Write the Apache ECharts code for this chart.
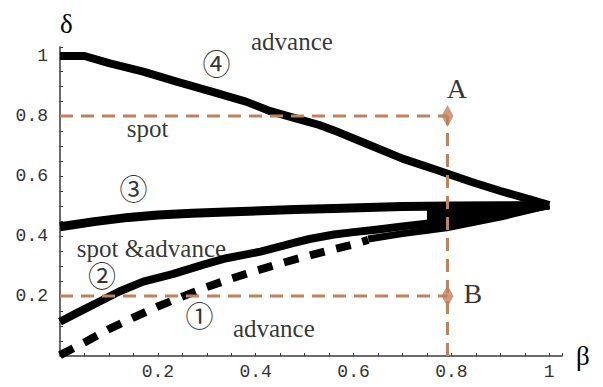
<!DOCTYPE html>
<html>
<head>
<meta charset="utf-8">
<script src="https://cdn.jsdelivr.net/npm/echarts@6/dist/echarts.min.js"></script>
<style>html,body{margin:0;padding:0;background:#fff}#c{width:603px;height:387px}</style>
</head>
<body>
<div id="c"></div>
<script>
// ---- data ----
const tickLabels = [0.2, 0.4, 0.6, 0.8, 1];

const curve4X = [0, 0.05, 0.1, 0.17, 0.24, 0.31, 0.38, 0.43, 0.48, 0.53, 0.56, 0.63, 0.7, 0.77, 0.84, 0.9, 0.96, 1.0];
const curve4Y = [1.0, 1.0, 0.976, 0.948, 0.914, 0.881, 0.848, 0.816, 0.793, 0.77, 0.752, 0.705, 0.658, 0.62, 0.581, 0.55, 0.522, 0.503];

const curve3X = [0, 0.07, 0.14, 0.2, 0.27, 0.34, 0.41, 0.48, 0.56, 0.63, 0.7, 0.8, 0.9, 1.0];
const curve3Y = [0.431, 0.448, 0.462, 0.47, 0.476, 0.48, 0.484, 0.488, 0.492, 0.495, 0.498, 0.5, 0.501, 0.502];

const curve2X = [0, 0.04, 0.08, 0.12, 0.17, 0.23, 0.29, 0.34, 0.41, 0.48, 0.51, 0.56, 0.6, 0.65, 0.7, 0.79, 0.9, 1.0];
const curve2Y = [0.114, 0.148, 0.181, 0.214, 0.248, 0.273, 0.303, 0.326, 0.348, 0.378, 0.39, 0.405, 0.413, 0.422, 0.432, 0.448, 0.474, 0.502];

const curve1X = [0, 0.05, 0.1, 0.15, 0.2, 0.25, 0.3, 0.35, 0.4, 0.45, 0.5, 0.55, 0.6, 0.63];
const curve1Y = [0.003, 0.045, 0.09, 0.128, 0.165, 0.198, 0.23, 0.258, 0.284, 0.308, 0.331, 0.352, 0.372, 0.387];

const curve1TailX = [0.63, 0.7, 0.79, 0.9, 1.0];
const curve1TailY = [0.39, 0.408, 0.427, 0.463, 0.502];

// region between curve 2 and curve 3 near the tip (filled black)
const wedgeX = [0.75, 0.8, 0.85, 0.9, 0.95, 1.0];
const wedgeTop = [0.499, 0.5, 0.5, 0.501, 0.501, 0.502];
const wedgeBottom = [0.441, 0.45, 0.462, 0.474, 0.488, 0.502];

// reference lines and points A, B
const refBeta = 0.792;
const pointA = [0.792, 0.8];
const pointB = [0.792, 0.2];

// annotations [beta, delta]
const annoText = ['advance', '④', 'spot', '③', 'spot &advance', '②', '①', 'advance', 'A', 'B'];
const annoBeta = [0.474, 0.32, 0.179, 0.15, 0.187, 0.086, 0.285, 0.437, 0.811, 0.844];
const annoDelta = [1.047, 0.97, 0.76, 0.553, 0.357, 0.263, 0.127, 0.093, 0.893, 0.21];
const annoSize = [25, 28, 25, 28, 25, 28, 28, 25, 28, 28];

// ---- build ----
const zip = (xs, ys) => xs.map((x, i) => [x, ys[i]]);
const BROWN = '#BF825C';
const serif = "'Liberation Serif', 'Times New Roman', 'Noto Sans CJK SC', serif";

function fmt(v) {
  const r = Math.round(v * 100) / 100;
  for (const t of tickLabels) if (Math.abs(r - t) < 1e-6) return String(t);
  return '';
}

const axisCommon = {
  type: 'value', min: 0, interval: 0.05,
  splitLine: { show: false },
  axisLine: { show: true, onZero: false, lineStyle: { color: '#3a3a3a', width: 1.5 } },
  axisTick: { show: true, inside: true, length: 3, lineStyle: { color: '#3a3a3a', width: 1 } },
  axisLabel: { formatter: fmt, fontFamily: "'Liberation Mono', 'Courier New', monospace", fontSize: 18, color: '#333' }
};

const lineBase = { type: 'line', showSymbol: false, symbol: 'none', silent: true, animation: false, smooth: false };

const option = {
  animation: false,
  backgroundColor: '#fff',
  grid: { left: 60, right: 41, top: 47, bottom: 31, containLabel: false },
  xAxis: Object.assign({}, axisCommon, {
    max: 1.026,
    axisLabel: Object.assign({}, axisCommon.axisLabel, { margin: 7 }),
    name: 'β', nameLocation: 'end', nameGap: 14,
    nameTextStyle: { fontFamily: serif, fontSize: 27, color: '#000', verticalAlign: 'middle' }
  }),
  yAxis: Object.assign({}, axisCommon, {
    max: 1.03,
    axisLabel: Object.assign({}, axisCommon.axisLabel, { margin: 12 }),
    name: 'δ', nameLocation: 'end', nameGap: 10,
    nameTextStyle: { fontFamily: serif, fontSize: 27, color: '#000', align: 'left' }
  }),
  series: [
    {
      type: 'custom', name: 'wedge', silent: true, animation: false, z: 2,
      data: wedgeX.map((x, i) => [x, wedgeTop[i], wedgeBottom[i]]),
      renderItem: function (params, api) {
        if (params.dataIndex !== 0) return null;
        const pts = [];
        for (let i = 0; i < wedgeX.length; i++) pts.push(api.coord([wedgeX[i], wedgeTop[i]]));
        for (let i = wedgeX.length - 1; i >= 0; i--) pts.push(api.coord([wedgeX[i], wedgeBottom[i]]));
        return { type: 'polygon', shape: { points: pts }, style: { fill: '#000' } };
      }
    },
    Object.assign({}, lineBase, { name: 'curve4', data: zip(curve4X, curve4Y),
      lineStyle: { color: '#000', width: 8, join: 'round', cap: 'butt' }, z: 3 }),
    Object.assign({}, lineBase, { name: 'curve3', data: zip(curve3X, curve3Y),
      lineStyle: { color: '#000', width: 9, join: 'round', cap: 'butt' }, z: 3 }),
    Object.assign({}, lineBase, { name: 'curve2', data: zip(curve2X, curve2Y),
      lineStyle: { color: '#000', width: 8, join: 'round', cap: 'butt' }, z: 3 }),
    Object.assign({}, lineBase, { name: 'curve1', data: zip(curve1X, curve1Y),
      lineStyle: { color: '#000', width: 8, type: [15, 12], join: 'miter', cap: 'butt' }, z: 3 }),
    Object.assign({}, lineBase, { name: 'curve1tail', data: zip(curve1TailX, curve1TailY),
      lineStyle: { color: '#000', width: 7, join: 'round', cap: 'butt' }, z: 3 }),
    Object.assign({}, lineBase, { name: 'ref08', data: [[0, pointA[1]], pointA],
      lineStyle: { color: BROWN, width: 3, type: [13, 8] }, z: 5 }),
    Object.assign({}, lineBase, { name: 'ref02', data: [[0, pointB[1]], pointB],
      lineStyle: { color: BROWN, width: 3, type: [13, 8] }, z: 5 }),
    Object.assign({}, lineBase, { name: 'refV', data: [[refBeta, 0], [refBeta, pointA[1]]],
      lineStyle: { color: BROWN, width: 3, type: [13, 8] }, z: 5 }),
    { type: 'scatter', name: 'AB', data: [pointA, pointB], symbol: 'diamond', symbolSize: [12, 22],
      itemStyle: { color: BROWN }, silent: true, animation: false, z: 6 },
    { type: 'scatter', name: 'labels', clip: false, silent: true, animation: false, z: 7,
      symbolSize: 1, itemStyle: { color: 'rgba(0,0,0,0)' },
      data: annoText.map((t, i) => ({
        value: [annoBeta[i], annoDelta[i]],
        label: { show: true, position: 'inside', formatter: t, fontFamily: serif, fontSize: annoSize[i], color: '#000' }
      }))
    }
  ]
};

const chart = echarts.init(document.getElementById('c'), null, { renderer: 'svg' });
chart.setOption(option);
</script>
</body>
</html>
